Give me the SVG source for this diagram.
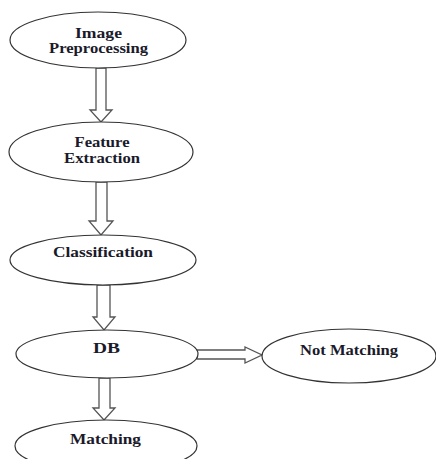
<svg xmlns="http://www.w3.org/2000/svg" width="436" height="459" viewBox="0 0 436 459">
<style>
.node ellipse{fill:#fff;stroke:#333;stroke-width:1.2}
.node text{font-family:"Liberation Serif","Times New Roman",serif;font-size:14px;font-weight:bold;fill:#1a1a2a;text-anchor:middle}
.conn polygon{fill:#fff;stroke:#555;stroke-width:1.3;stroke-linejoin:miter}
</style>
<rect width="436" height="459" fill="#fff"/>
<g id="connectors" class="conn">
<polygon points="96,68 106,68 106,110 112,110 101,122 90,110 96,110"/>
<polygon points="96,182 107,182 107,221 113,221 101,235 89,221 96,221"/>
<polygon points="97,285 110,285 110,317 115,317 104,330 93,317 97,317"/>
<polygon points="99,378 110,378 110,408 115,408 104,420 93,408 99,408"/>
<polygon points="197,350 245,350 245,347 262,355 245,363 245,359 197,359"/>
</g>
<g id="image-preprocessing" class="node">
<ellipse cx="98" cy="40" rx="88" ry="28"/>
<text x="98.5" y="38" textLength="47" lengthAdjust="spacingAndGlyphs">Image</text>
<text x="98.5" y="53" textLength="99" lengthAdjust="spacingAndGlyphs">Preprocessing</text>
</g>
<g id="feature-extraction" class="node">
<ellipse cx="101" cy="152" rx="92" ry="30"/>
<text x="102" y="147" textLength="55" lengthAdjust="spacingAndGlyphs">Feature</text>
<text x="102" y="163" textLength="76" lengthAdjust="spacingAndGlyphs">Extraction</text>
</g>
<g id="classification" class="node">
<ellipse cx="103" cy="260" rx="93" ry="25"/>
<text x="103" y="257" textLength="100" lengthAdjust="spacingAndGlyphs">Classification</text>
</g>
<g id="db" class="node">
<ellipse cx="107" cy="354" rx="91" ry="24"/>
<text x="106.5" y="353" textLength="27" lengthAdjust="spacingAndGlyphs">DB</text>
</g>
<g id="not-matching" class="node">
<ellipse cx="349" cy="356" rx="87" ry="27"/>
<text x="349" y="355" textLength="98" lengthAdjust="spacingAndGlyphs">Not Matching</text>
</g>
<g id="matching" class="node">
<ellipse cx="106" cy="446" rx="91" ry="26"/>
<text x="105.5" y="444" textLength="71" lengthAdjust="spacingAndGlyphs">Matching</text>
</g>
</svg>
